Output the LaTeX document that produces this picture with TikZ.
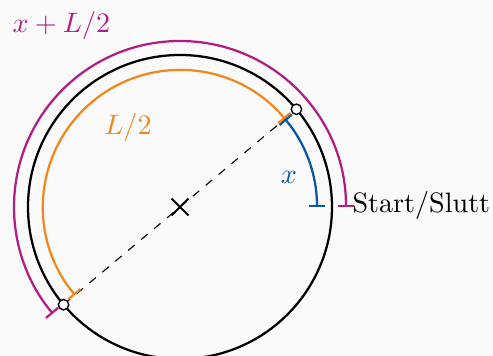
\documentclass[tikz,border=0pt]{standalone}
\usetikzlibrary{arrows.meta}
\definecolor{cmag}{RGB}{176,30,132}
\definecolor{corg}{RGB}{240,136,30}
\definecolor{cblu}{RGB}{10,85,165}
\definecolor{bgc}{RGB}{250,250,250}
\begin{document}
\begin{tikzpicture}[
  meas/.style={line width=0.8pt, {Bar[width=5.7pt,line width=0.8pt]}-{Bar[width=5.7pt,line width=0.8pt]}},
  pt/.style={circle, draw, fill=white, inner sep=0pt, minimum size=0.13cm, line width=0.5pt},
  lab/.style={inner sep=0pt}
]
\fill[bgc] (0,0) rectangle (6.1625,4.45);
\useasboundingbox (0,0) rectangle (6.1625,4.45);
\coordinate (O) at (2.25,1.8625);
\coordinate (A) at ([shift={(40:1.9)}]O);
\coordinate (B) at ([shift={(220:1.9)}]O);
\coordinate (S) at ([shift={(0:1.9)}]O);
\draw[line width=0.8pt] (O) circle[radius=1.9cm];
\draw[dashed, line width=0.4pt] (B) -- (A);
\draw[line width=0.7pt] ([shift={(-0.106,-0.106)}]O) -- ([shift={(0.106,0.106)}]O);
\draw[line width=0.7pt] ([shift={(-0.106,0.106)}]O) -- ([shift={(0.106,-0.106)}]O);
\draw[meas, cblu] ([shift={(0:1.7125)}]O) arc[start angle=0, end angle=40, radius=1.7125cm];
\draw[meas, corg] ([shift={(40:1.7125)}]O) arc[start angle=40, end angle=220, radius=1.7125cm];
\draw[meas, cmag] ([shift={(0:2.075)}]O) arc[start angle=0, end angle=220, radius=2.075cm];
\node[pt] (pA) at (A) {};
\node[pt] (pB) at (B) {};
\node[lab, anchor=base west] (st) at (4.4,1.7875) {Start/Slutt};
\node[lab, anchor=base west, text=cmag] (lx) at (0.15,4.0375) {$x+L/2$};
\node[lab, text=corg] (lh) at (1.6,2.8625) {$L/2$};
\node[lab, text=cblu] (lb) at (3.6125,2.2375) {$x$};
\end{tikzpicture}
\end{document}
